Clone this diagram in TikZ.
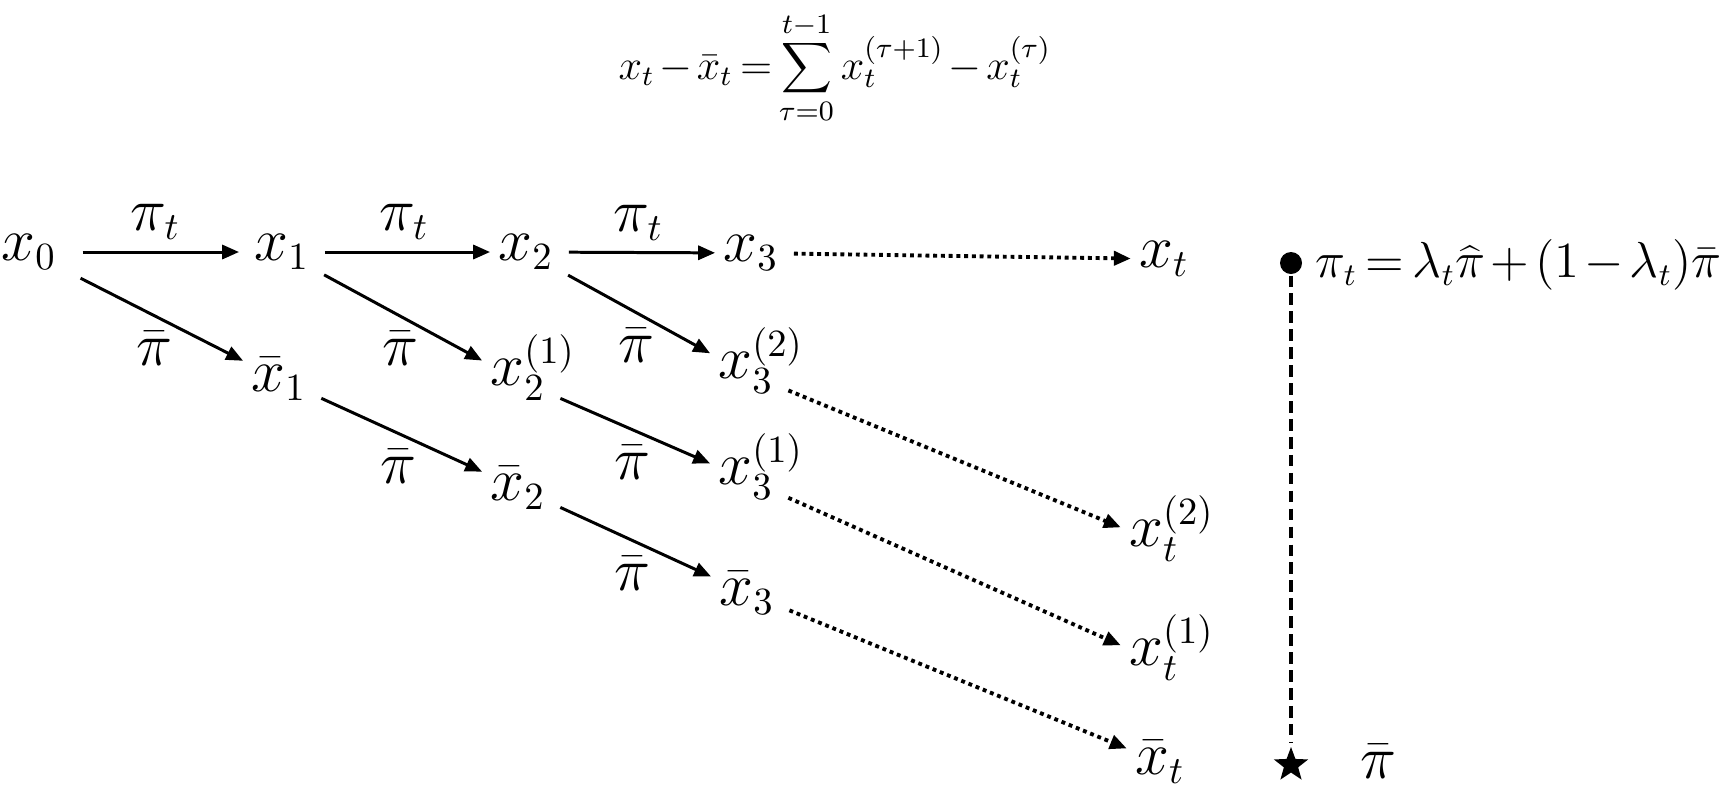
\documentclass[tikz,border=0pt]{standalone}
\usetikzlibrary{arrows.meta,shapes.geometric}
\newcommand{\rsup}[1]{^{\smash{\rlap{$\scriptstyle#1$}}}}
\newcommand{\tightmath}{\thickmuskip=3mu\relax\medmuskip=2mu\relax}
\begin{document}
\begin{tikzpicture}[x=0.01cm, y=-0.01cm, >={Triangle[length=4.8pt,width=4pt]}, line width=0.85pt,
		every node/.style={font=\fontsize{16}{19}\selectfont, inner sep=2pt},
		lbl/.style={midway, below=3pt, inner sep=1pt},
		toplbl/.style={midway, above=2pt, inner sep=1pt},
		dots/.style={->, line width=1.1pt, dash pattern=on 1.1pt off 1.1pt, shorten <=2pt},
		tight/.style={font=\fontsize{12}{15}\selectfont}]
	\useasboundingbox (0,0) rectangle (1730,796);
	% 1. 顶部公式
	\node[tight] (eqsum) at (835, 68) {$\tightmath\displaystyle x_t-\bar{x}_t=\sum_{\tau=0}^{t-1}x_t^{(\tau+1)}-x_t^{(\tau)}$};
	
	% 2. 状态节点
	\node (x0) at (29, 252) {$x_0$};
	\node (x1) at (282, 252) {$x_1$};
	\node (x2) at (526, 252) {$x_2$};
	\node (x3) at (751, 253) {$x_3$};
	\node (xt) at (1164, 259) {$x_t$};
	\node (xb1) at (279, 379) {$\bar{x}_1$};
	\node (x21) at (518, 380) {$x_2\rsup{(1)}$};
	\node (x32) at (746, 373) {$x_3\rsup{(2)}$};
	\node (x31) at (746, 479) {$x_3\rsup{(1)}$};
	\node (xb2) at (518, 488) {$\bar{x}_2$};
	\node (xb3) at (747, 593) {$\bar{x}_3$};
	\node (xt2) at (1154, 541) {$x_t\rsup{(2)}$};
	\node (xt1) at (1154, 660) {$x_t\rsup{(1)}$};
	\node (xbt) at (1160, 762) {$\bar{x}_t$};
	
	% 3. 实线箭头
	\draw[->, shorten <=5pt, shorten >=2pt] (x0) -- (x1) node[toplbl] {$\pi_t$};
	\draw[->, shorten <=2pt] (x1) -- (x2) node[toplbl] {$\pi_t$};
	\draw[->, shorten <=2pt] (x2) -- (x3) node[toplbl] {$\pi_t$};
	\draw[->, shorten <=5pt] (x0) -- (xb1) node[lbl] {$\bar{\pi}$};
	\draw[->, shorten <=2pt] (x1) -- (x21) node[lbl] {$\bar{\pi}$};
	\draw[->, shorten <=2pt] (x2) -- (x32) node[lbl] {$\bar{\pi}$};
	\draw[->, shorten <=2pt] (xb1) -- (xb2) node[lbl] {$\bar{\pi}$};
	\draw[->, shorten <=2pt] (x21) -- (x31) node[lbl] {$\bar{\pi}$};
	\draw[->, shorten <=2pt] (xb2) -- (xb3) node[lbl] {$\bar{\pi}$};
	
	% 4. 点线箭头
	\draw[dots] (x3) -- (xt);
	\draw[dots] (x32) -- (xt2);
	\draw[dots] (x31) -- (xt1);
	\draw[dots] (xb3) -- (xbt);
	
	% 5. 右侧策略轴
	\node[circle, fill, inner sep=0pt, minimum size=0.22cm] (top) at (1291, 263) {};
	\node[star, star points=5, star point ratio=2.4, fill, inner sep=0pt, minimum size=0.36cm] (star) at (1291, 765) {};
	\draw[line width=1.3pt, dash pattern=on 3.3pt off 1.8pt] (top) -- (star);
	\node[font=\fontsize{13.3}{16}\selectfont, anchor=east] (eqpi) at (1730, 265) {$\tightmath\pi_t=\lambda_t\widehat{\pi}+(1-\lambda_t)\bar{\pi}$};
	\node (pibar) at (1378, 761) {$\bar{\pi}$};
\end{tikzpicture}
\end{document}
